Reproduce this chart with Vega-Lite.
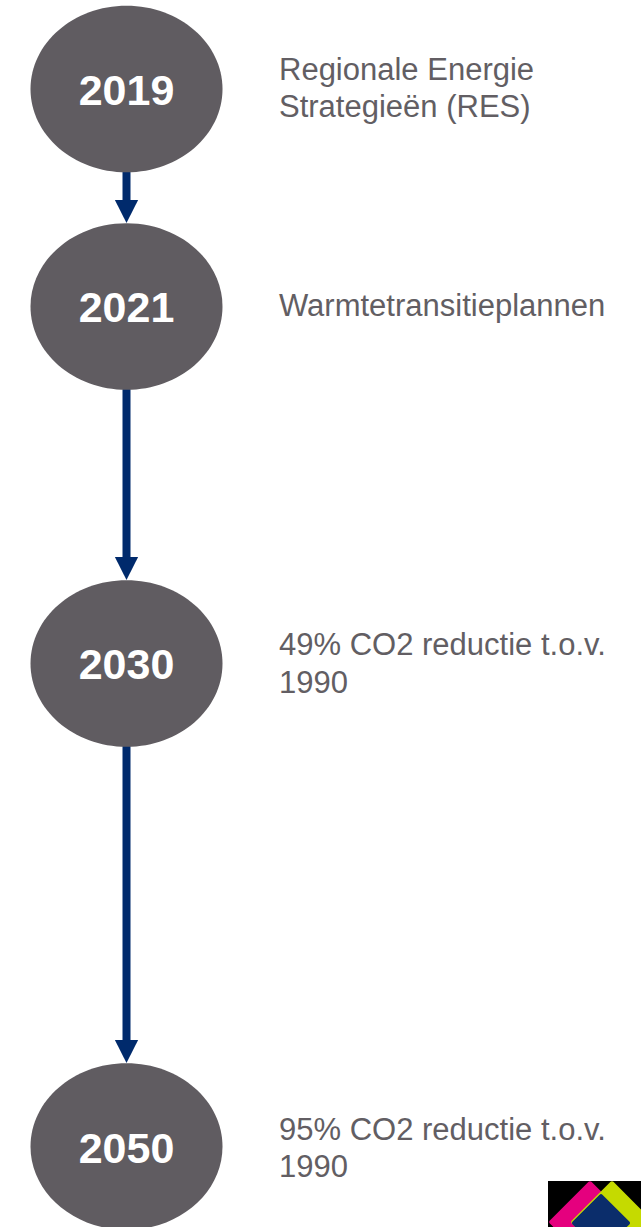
{
  "$schema": "https://vega.github.io/schema/vega-lite/v6.json",
  "width": 641,
  "height": 1227,
  "autosize": "none",
  "padding": 0,
  "background": "white",
  "config": {"view": {"stroke": null}, "font": "Liberation Sans"},
  "datasets": {
    "shafts": [
      {"x": 126.5, "y1": 170, "y2": 202},
      {"x": 126.5, "y1": 388, "y2": 559},
      {"x": 126.5, "y1": 745, "y2": 1042}
    ],
    "heads": [
      {"x": 126.5, "y": 211.5},
      {"x": 126.5, "y": 568.5},
      {"x": 126.5, "y": 1051.5}
    ],
    "nodes": [
      {"year": "2019", "x": 126.5, "y": 89, "ty": 105},
      {"year": "2021", "x": 126.5, "y": 306.5, "ty": 322},
      {"year": "2030", "x": 126.5, "y": 663.5, "ty": 679},
      {"year": "2050", "x": 126.5, "y": 1146.5, "ty": 1163}
    ],
    "labels": [
      {"text": "Regionale Energie", "x": 279, "y": 80},
      {"text": "Strategieën (RES)", "x": 279, "y": 117},
      {"text": "Warmtetransitieplannen", "x": 279, "y": 316},
      {"text": "49% CO2 reductie t.o.v.", "x": 279, "y": 655},
      {"text": "1990", "x": 279, "y": 693},
      {"text": "95% CO2 reductie t.o.v.", "x": 279, "y": 1140},
      {"text": "1990", "x": 279, "y": 1177}
    ],
    "logobg": [{"x": 548, "x2": 660, "y": 1181, "y2": 1240}],
    "logoA": [
      {"part": "left", "x": 590, "y": 1222},
      {"part": "right", "x": 612, "y": 1222}
    ],
    "logoB": [
      {"part": "overlap", "x": 601, "y": 1223}
    ]
  },
  "layer": [
    {
      "data": {"name": "shafts"},
      "mark": {"type": "rule", "color": "#002a6c", "strokeWidth": 8},
      "encoding": {
        "x": {"field": "x", "type": "quantitative", "scale": {"domain": [0, 641], "nice": false, "zero": false}, "axis": null},
        "y": {"field": "y1", "type": "quantitative", "scale": {"domain": [0, 1227], "nice": false, "zero": false, "reverse": true}, "axis": null},
        "y2": {"field": "y2"}
      }
    },
    {
      "data": {"name": "heads"},
      "mark": {"type": "point", "shape": "M-1,-1L1,-1L0,1Z", "size": 540, "filled": true, "color": "#002a6c", "opacity": 1, "strokeWidth": 0},
      "encoding": {
        "x": {"field": "x", "type": "quantitative", "axis": null},
        "y": {"field": "y", "type": "quantitative", "axis": null}
      }
    },
    {
      "data": {"name": "nodes"},
      "mark": {"type": "point", "shape": "M-1,0C-1,-0.4794,-0.5523,-0.868,0,-0.868C0.5523,-0.868,1,-0.4794,1,0C1,0.4794,0.5523,0.868,0,0.868C-0.5523,0.868,-1,0.4794,-1,0Z", "size": 36864, "filled": true, "color": "#605c61", "opacity": 1, "strokeWidth": 0},
      "encoding": {
        "x": {"field": "x", "type": "quantitative", "axis": null},
        "y": {"field": "y", "type": "quantitative", "axis": null}
      }
    },
    {
      "data": {"name": "nodes"},
      "mark": {"type": "text", "font": "Liberation Sans", "fontWeight": "bold", "fontSize": 43, "color": "white", "align": "center", "baseline": "alphabetic"},
      "encoding": {
        "x": {"field": "x", "type": "quantitative", "axis": null},
        "y": {"field": "ty", "type": "quantitative", "axis": null},
        "text": {"field": "year"}
      }
    },
    {
      "data": {"name": "labels"},
      "mark": {"type": "text", "font": "Liberation Sans", "fontSize": 31, "color": "#625e63", "align": "left", "baseline": "alphabetic"},
      "encoding": {
        "x": {"field": "x", "type": "quantitative", "axis": null},
        "y": {"field": "y", "type": "quantitative", "axis": null},
        "text": {"field": "text"}
      }
    },
    {
      "data": {"name": "logobg"},
      "mark": {"type": "rect", "color": "black", "clip": true},
      "encoding": {
        "x": {"field": "x", "type": "quantitative", "axis": null},
        "x2": {"field": "x2"},
        "y": {"field": "y", "type": "quantitative", "axis": null},
        "y2": {"field": "y2"}
      }
    },
    {
      "data": {"name": "logoA"},
      "mark": {"type": "point", "shape": "diamond", "size": 6000, "filled": true, "opacity": 1, "strokeWidth": 4, "strokeJoin": "round", "clip": true},
      "encoding": {
        "x": {"field": "x", "type": "quantitative", "axis": null},
        "y": {"field": "y", "type": "quantitative", "axis": null},
        "color": {"field": "part", "type": "nominal", "scale": {"domain": ["left", "right", "overlap"], "range": ["#e5007e", "#c5da00", "#0b2d6b"]}, "legend": null},
        "stroke": {"field": "part", "type": "nominal", "scale": {"domain": ["left", "right", "overlap"], "range": ["#e5007e", "#c5da00", "#0b2d6b"]}, "legend": null}
      }
    },
    {
      "data": {"name": "logoB"},
      "mark": {"type": "point", "shape": "diamond", "size": 2900, "filled": true, "opacity": 1, "strokeWidth": 4, "strokeJoin": "round", "clip": true},
      "encoding": {
        "x": {"field": "x", "type": "quantitative", "axis": null},
        "y": {"field": "y", "type": "quantitative", "axis": null},
        "color": {"field": "part", "type": "nominal", "scale": {"domain": ["left", "right", "overlap"], "range": ["#e5007e", "#c5da00", "#0b2d6b"]}, "legend": null},
        "stroke": {"field": "part", "type": "nominal", "scale": {"domain": ["left", "right", "overlap"], "range": ["#e5007e", "#c5da00", "#0b2d6b"]}, "legend": null}
      }
    }
  ]
}
